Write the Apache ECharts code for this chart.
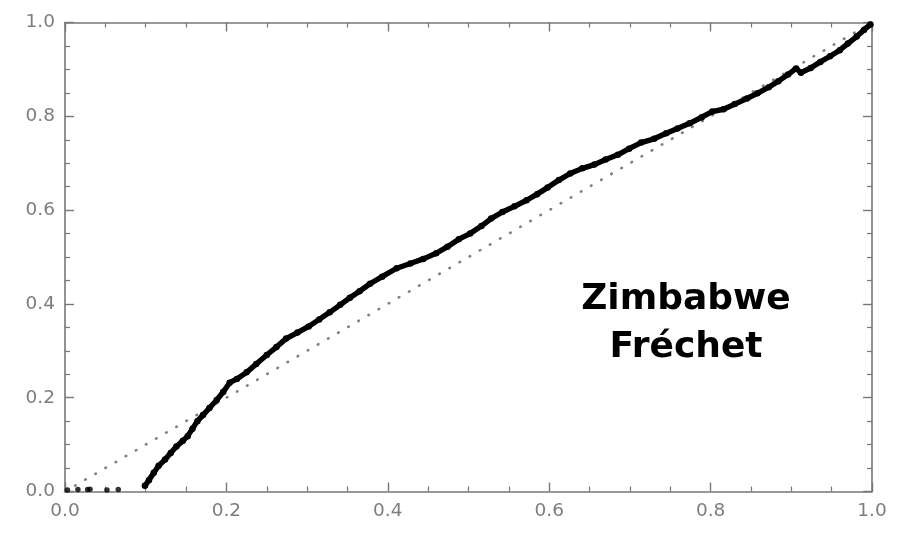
<!DOCTYPE html>
<html>
<head>
<meta charset="utf-8">
<script src="https://cdn.jsdelivr.net/npm/echarts@6/dist/echarts.min.js"></script>
<style>
  html, body { margin: 0; padding: 0; background: #fff; }
  #chart { width: 903px; height: 534px; }
</style>
</head>
<body>
<div id="chart"></div>
<script>
// P-P plot: empirical vs fitted Fréchet probabilities
const ppCurve = [
  [0.099,0.012],[0.104,0.024],[0.110,0.040],[0.116,0.055],[0.124,0.068],[0.131,0.082],
  [0.138,0.096],[0.146,0.108],[0.152,0.118],[0.158,0.134],[0.164,0.150],[0.171,0.163],
  [0.179,0.178],[0.188,0.195],[0.196,0.212],[0.204,0.232],[0.213,0.240],[0.225,0.254],
  [0.237,0.272],[0.250,0.291],[0.262,0.308],[0.274,0.326],[0.288,0.339],[0.302,0.352],
  [0.315,0.367],[0.328,0.382],[0.341,0.398],[0.353,0.413],[0.365,0.427],[0.378,0.443],
  [0.393,0.458],[0.411,0.476],[0.428,0.486],[0.444,0.496],[0.460,0.508],[0.474,0.522],
  [0.488,0.538],[0.502,0.550],[0.516,0.566],[0.528,0.582],[0.542,0.596],[0.557,0.608],
  [0.572,0.621],[0.585,0.634],[0.598,0.648],[0.612,0.664],[0.626,0.678],[0.641,0.689],
  [0.656,0.697],[0.670,0.708],[0.685,0.718],[0.699,0.731],[0.714,0.744],[0.730,0.752],
  [0.745,0.764],[0.759,0.774],[0.774,0.785],[0.789,0.798],[0.802,0.810],[0.816,0.815],
  [0.830,0.826],[0.845,0.838],[0.858,0.849],[0.872,0.862],[0.884,0.875],[0.896,0.889],
  [0.906,0.902],[0.912,0.893],[0.924,0.903],[0.936,0.916],[0.948,0.928],[0.960,0.941],
  [0.970,0.955],[0.981,0.970],[0.990,0.984],[0.998,0.996]
];
// isolated low-probability points near the origin
const ppLowTail = [
  [0.003,0.003],[0.016,0.004],[0.028,0.004],[0.031,0.005],[0.052,0.003],[0.066,0.004]
];
// 45-degree reference line
const diagonal = [[0,0],[1,1]];
const tickValues = [0, 0.2, 0.4, 0.6, 0.8, 1.0];
const annotation = ['Zimbabwe', 'Fréchet'];

const chart = echarts.init(document.getElementById('chart'), null, { renderer: 'canvas' });

const axisColor = '#777777';
const labelStyle = {
  color: '#7d7d7d',
  fontFamily: 'DejaVu Sans',
  fontSize: 18.5,
  margin: 10,
  formatter: v => tickValues.includes(Math.round(v * 10) / 10) ? v.toFixed(1) : ''
};
function makeAxis(position, showLabels) {
  return {
    type: 'value',
    position: position,
    min: 0, max: 1, interval: 0.2,
    axisLine: { show: true, onZero: false, lineStyle: { color: axisColor, width: 1.6 } },
    axisTick: { show: true, inside: true, length: 9, lineStyle: { color: axisColor, width: 1.4 } },
    minorTick: { show: true, splitNumber: 4, length: 5, lineStyle: { color: axisColor, width: 1.2 } },
    splitLine: { show: false },
    axisLabel: showLabels ? labelStyle : { show: false }
  };
}

chart.setOption({
  animation: false,
  backgroundColor: '#ffffff',
  grid: { left: 65, right: 31, top: 22.5, bottom: 42.5, containLabel: false },
  xAxis: [makeAxis('bottom', true), makeAxis('top', false)],
  yAxis: [makeAxis('left', true), makeAxis('right', false)],
  series: [
    {
      type: 'line',
      data: diagonal,
      symbol: 'none',
      silent: true,
      lineStyle: { color: '#808080', width: 2.6, type: [0.6, 11.1], cap: 'round' },
      z: 1
    },
    {
      type: 'line',
      data: ppCurve,
      symbol: 'circle',
      symbolSize: 6.5,
      itemStyle: { color: '#000' },
      lineStyle: { color: '#000', width: 5.4, cap: 'round', join: 'round' },
      z: 3
    },
    {
      type: 'scatter',
      data: ppLowTail,
      symbolSize: 5.5,
      itemStyle: { color: '#000' },
      z: 3
    }
  ],
  graphic: [
    {
      type: 'text',
      style: {
        text: annotation[0], x: 686, y: 300,
        font: 'bold 36px "DejaVu Sans"', fill: '#000',
        textAlign: 'center', textVerticalAlign: 'middle'
      }
    },
    {
      type: 'text',
      style: {
        text: annotation[1], x: 686, y: 348,
        font: 'bold 36px "DejaVu Sans"', fill: '#000',
        textAlign: 'center', textVerticalAlign: 'middle'
      }
    }
  ]
});
</script>
</body>
</html>
